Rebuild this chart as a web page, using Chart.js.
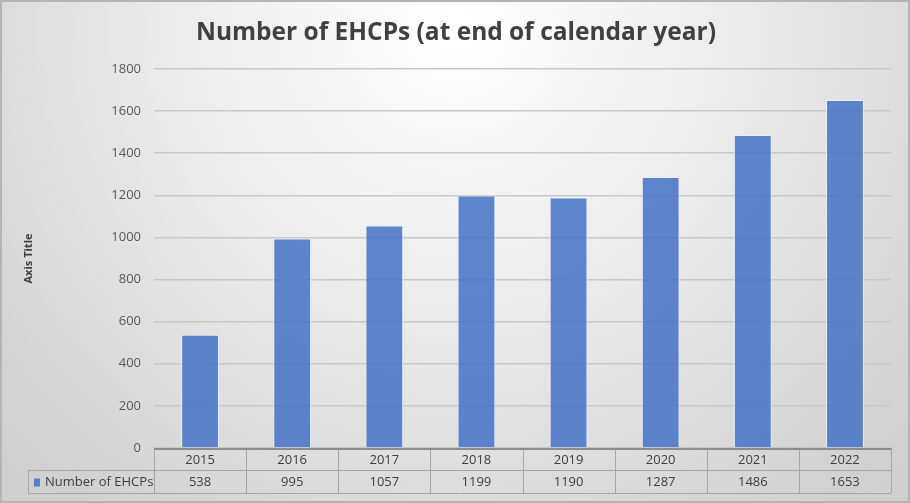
<!DOCTYPE html>
<html>
<head>
<meta charset="utf-8">
<script src="https://cdn.jsdelivr.net/npm/chart.js@4.4.1/dist/chart.umd.min.js"></script>
<style>
  html, body { margin: 0; padding: 0; background: #fff; }
  #wrap { width: 910px; height: 503px; }
</style>
</head>
<body>
<div id="wrap"><canvas id="grafico"></canvas></div>
<script>
const ANOS = ['2015', '2016', '2017', '2018', '2019', '2020', '2021', '2022'];
const EHCPS = [538, 995, 1057, 1199, 1190, 1287, 1486, 1653];
const NOME_SERIE = 'Number of EHCPs';
const TITULO = 'Number of EHCPs (at end of calendar year)';
const TICKS_Y = [0, 200, 400, 600, 800, 1000, 1200, 1400, 1600, 1800];

const COR_BARRA = 'rgba(68, 114, 196, 0.85)';
const FONTE = '"Liberation Sans Narrow", "Open Sans", sans-serif';

// fundo cinza com degradê, como no Excel
const fundo = {
  id: 'fundo',
  beforeDraw(chart) {
    const ctx = chart.ctx;
    const w = chart.width, h = chart.height;
    ctx.save();
    const g = ctx.createRadialGradient(w / 2, 30, 10, w / 2, 30, 620);
    g.addColorStop(0, '#ffffff');
    g.addColorStop(0.45, '#ebebeb');
    g.addColorStop(1, '#cfcfcf');
    ctx.fillStyle = g;
    ctx.fillRect(0, 0, w, h);
    ctx.strokeStyle = '#b4b4b4';
    ctx.lineWidth = 2;
    ctx.strokeRect(1, 1, w - 2, h - 2);
    // título centrado na largura toda
    ctx.font = 'bold 24.5px "Open Sans", sans-serif';
    ctx.fillStyle = '#404040';
    ctx.textAlign = 'center';
    ctx.textBaseline = 'middle';
    ctx.fillText(TITULO, w / 2 + 1, 33);
    ctx.restore();
  }
};

// tabela de dados abaixo do gráfico
const tabela = {
  id: 'tabela',
  afterDraw(chart) {
    const ctx = chart.ctx;
    const x = chart.scales.x;
    const area = chart.chartArea;
    const passo = (area.right - area.left) / ANOS.length;
    const y0 = area.bottom, y1 = y0 + 22, y2 = y1 + 23;
    const esq = 28;
    ctx.save();
    ctx.strokeStyle = '#a6a6a6';
    ctx.lineWidth = 1;
    ctx.beginPath();
    ctx.moveTo(area.left, y0 + 0.5); ctx.lineTo(area.right, y0 + 0.5);
    ctx.moveTo(esq, y1 + 0.5); ctx.lineTo(area.right, y1 + 0.5);
    ctx.moveTo(esq, y2 + 0.5); ctx.lineTo(area.right, y2 + 0.5);
    ctx.moveTo(esq + 0.5, y1); ctx.lineTo(esq + 0.5, y2);
    for (let i = 0; i <= ANOS.length; i++) {
      const xx = Math.round(area.left + i * passo) + 0.5;
      ctx.moveTo(xx, y0); ctx.lineTo(xx, y2);
    }
    ctx.stroke();
    ctx.strokeStyle = '#8c8c8c';
    ctx.lineWidth = 2;
    ctx.beginPath();
    ctx.moveTo(area.left, y0 + 1); ctx.lineTo(area.right, y0 + 1);
    ctx.stroke();

    ctx.font = '13px ' + FONTE;
    ctx.fillStyle = '#404040';
    ctx.textAlign = 'center';
    ctx.textBaseline = 'middle';
    ANOS.forEach((ano, i) => {
      const cx = x.getPixelForValue(i);
      ctx.fillText(ano, cx, (y0 + y1) / 2 + 1);
      ctx.fillText(String(EHCPS[i]), cx, (y1 + y2) / 2 + 1);
    });
    ctx.fillStyle = COR_BARRA;
    ctx.fillRect(34, (y1 + y2) / 2 - 3, 6, 8);
    ctx.fillStyle = '#404040';
    ctx.textAlign = 'left';
    ctx.fillText(NOME_SERIE, 45, (y1 + y2) / 2 + 1);
    ctx.restore();
  }
};

new Chart(document.getElementById('grafico'), {
  type: 'bar',
  data: {
    labels: ANOS,
    datasets: [{
      label: NOME_SERIE,
      data: EHCPS,
      backgroundColor: COR_BARRA,
      borderColor: 'rgba(235, 240, 250, 0.9)',
      borderWidth: 1,
      categoryPercentage: 1,
      barPercentage: 0.41
    }]
  },
  options: {
    responsive: true,
    maintainAspectRatio: false,
    animation: false,
    layout: { padding: { left: 0, right: 19, top: 69, bottom: 55 } },
    plugins: {
      legend: { display: false },
      tooltip: { enabled: false },
      title: { display: false }
    },
    scales: {
      x: {
        display: false
      },
      y: {
        min: 0,
        max: 1800,
        afterBuildTicks(scale) { scale.ticks = TICKS_Y.map(v => ({ value: v })); },
        afterFit(scale) { scale.width = 154; },
        border: { display: false },
        grid: { color: '#c8c8c8', lineWidth: 1.5, drawTicks: false },
        ticks: {
          color: '#595959',
          padding: 13,
          font: { family: FONTE, size: 13 },
          callback: v => String(v)
        },
        title: {
          display: true,
          text: 'Axis Title',
          color: '#404040',
          font: { family: '"Open Sans", sans-serif', size: 11, weight: 'bold' },
          padding: { top: 22, bottom: 0 }
        }
      }
    }
  },
  plugins: [fundo, tabela]
});
</script>
</body>
</html>
